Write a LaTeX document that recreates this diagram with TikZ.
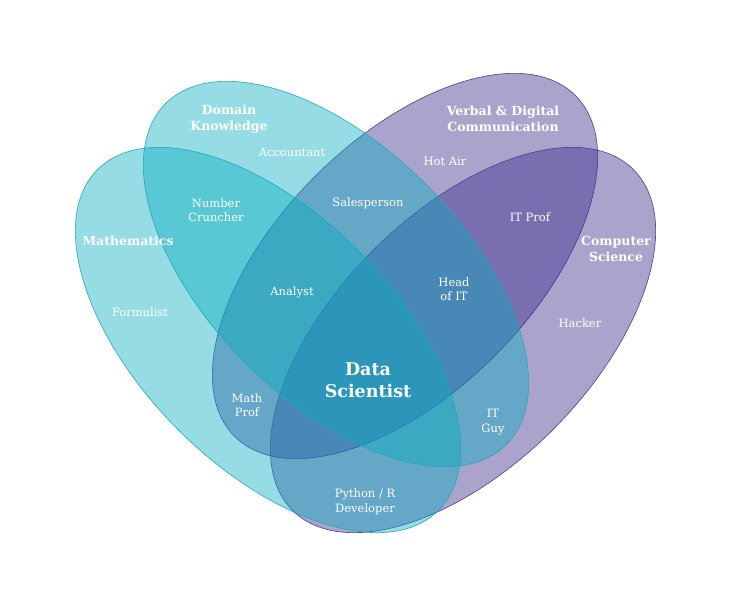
\documentclass[tikz,border=0pt]{standalone}
\usepackage{fontspec}
\setmainfont{DejaVu Serif}
\usepackage{tikz}
\usetikzlibrary{positioning}
\definecolor{setcyan}{RGB}{5,172,191}
\definecolor{setpurple}{RGB}{53,38,136}
\definecolor{cyanedge}{RGB}{40,165,185}
\definecolor{purpleedge}{RGB}{75,62,140}
\tikzset{
  cyan-set/.style={fill=setcyan, fill opacity=0.42, draw=cyanedge, line width=0.6pt},
  purple-set/.style={fill=setpurple, fill opacity=0.42, draw=purpleedge, line width=0.6pt},
  set-title/.style={text=white, font=\bfseries\fontsize{12.5}{15.5}\selectfont, align=center, inner sep=1pt},
  role-label/.style={text=white, font=\fontsize{11.5}{14.5}\selectfont, align=center, inner sep=1pt},
  core-label/.style={text=white, font=\bfseries\fontsize{17.5}{22}\selectfont, align=center, inner sep=1pt}
}

\begin{document}
\begin{tikzpicture}[x=1pt, y=1pt]
\useasboundingbox (0,0) rectangle (731,609);
\draw[purple-set, shift={(405,343)}, rotate=45] (0,0) ellipse [x radius=241pt, y radius=127pt];
\draw[purple-set, shift={(463,269)}, rotate=45] (0,0) ellipse [x radius=241pt, y radius=127pt];
\draw[cyan-set, shift={(268,269)}, rotate=-45] (0,0) ellipse [x radius=241pt, y radius=127pt];
\draw[cyan-set, shift={(336,335)}, rotate=-45] (0,0) ellipse [x radius=241pt, y radius=127pt];

\node[set-title] (domain) at (229,490) {Domain\\Knowledge};
\node[set-title] (maths) at (128,368) {Mathematics};
\node[set-title] (comm) at (503,490) {Verbal \& Digital\\Communication};
\node[set-title] (cs) at (616,360) {Computer\\Science};

\node[role-label] (accountant) at (292,457) {Accountant};
\node[role-label] (cruncher) at (216,399) {Number\\Cruncher};
\node[role-label] (formulist) at (140,297) {Formulist};
\node[role-label] (analyst) at (292,317) {Analyst};
\node[role-label] (sales) at (368,406) {Salesperson};
\node[role-label] (hotair) at (445,448) {Hot Air};
\node[role-label] (itprof) at (530,392) {IT Prof};
\node[role-label] (headit) at (454,320) {Head\\of IT};
\node[role-label] (hacker) at (580,286) {Hacker};
\node[role-label] (mathprof) at (247,204) {Math\\Prof};
\node[role-label] (itguy) at (493,187) {IT\\Guy};
\node[role-label] (devel) at (365,107) {Python / R\\Developer};
\node[core-label] (scientist) at (368,229) {Data\\Scientist};
\end{tikzpicture}
\end{document}
